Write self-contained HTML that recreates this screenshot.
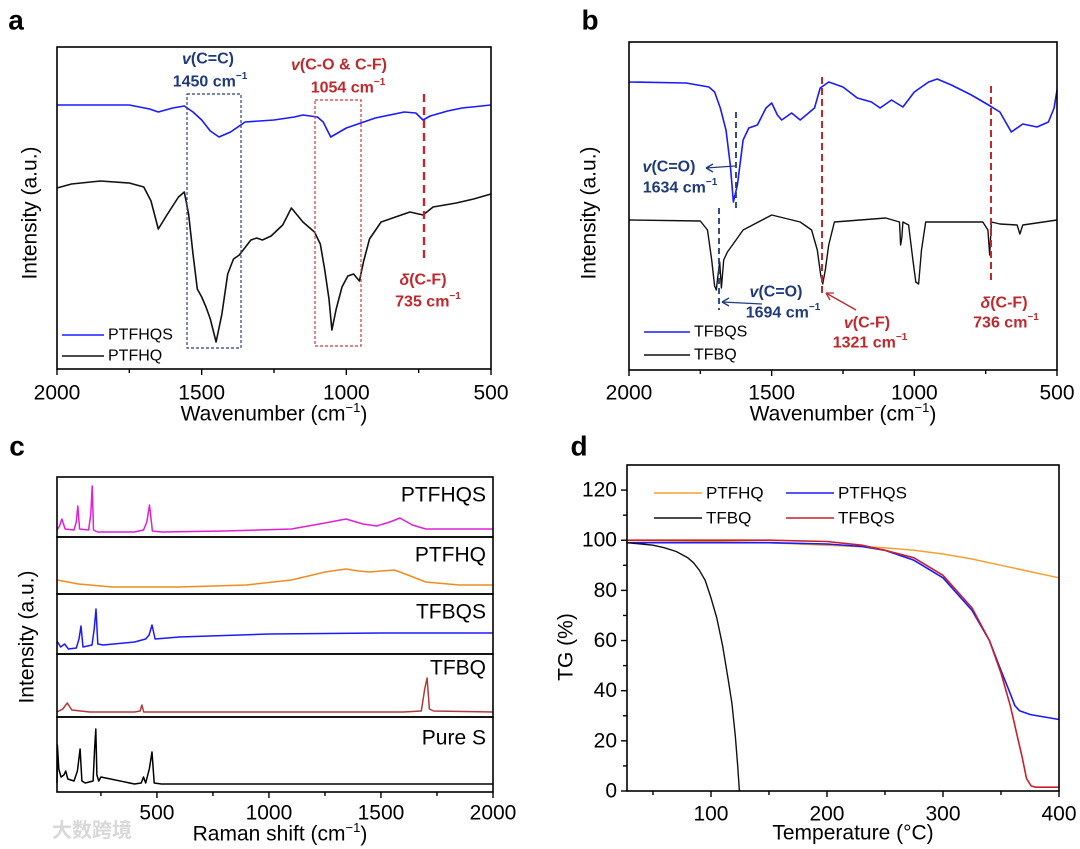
<!DOCTYPE html>
<html><head><meta charset="utf-8"><style>
html,body{margin:0;padding:0;background:#fff;}
svg{display:block;font-family:"Liberation Sans",Arial,sans-serif;}
</style></head><body>
<svg id="fig" width="1080" height="849" viewBox="0 0 1080 849" xmlns="http://www.w3.org/2000/svg">
<g id="layer"></g>
</svg>
<script>
// ---------- Panel a: FTIR (wavenumber, intensity) ----------
const aWaves_PTFHQS = [2000,1750,1680,1650,1600,1560,1530,1500,1470,1440,1400,1350,1250,1180,1150,1100,1080,1054,1030,1000,950,900,800,760,735,710,650,600,500];
const aVals_PTFHQS  = [264,264,260,257,261,263,257,249,238,232,237,247,249,252,254,252,247,232,236,241,246,251,257,256,249,253,258,261,264];
const aWaves_PTFHQ = [2000,1950,1850,1750,1700,1675,1650,1620,1580,1560,1545,1530,1515,1500,1485,1470,1450,1430,1410,1390,1370,1330,1310,1290,1260,1220,1190,1150,1110,1090,1075,1060,1050,1035,1015,995,975,955,940,920,880,830,780,735,700,660,620,560,500];
const aVals_PTFHQ  = [181,185,188,186,182,168,140,154,172,177,155,115,80,72,62,50,27,55,95,110,114,129,131,129,133,144,161,147,137,125,100,70,39,60,82,93,95,88,108,130,147,152,157,154,162,164,166,170,175];
// ---------- Panel b ----------
const bWaves_TFBQS = [2000,1800,1720,1700,1680,1660,1645,1634,1620,1600,1580,1550,1520,1500,1480,1465,1430,1400,1350,1330,1300,1250,1200,1150,1120,1080,1040,1000,950,920,870,800,740,700,660,620,570,530,510,500];
const bVals_TFBQS  = [288,287,283,278,262,240,205,168,185,230,242,245,262,267,255,250,257,250,262,282,288,283,272,268,262,270,263,278,288,291,285,275,265,258,238,246,243,248,262,280];
const bWaves_TFBQ = [2000,1750,1725,1710,1700,1694,1688,1682,1676,1668,1655,1630,1600,1500,1400,1360,1340,1328,1321,1312,1300,1280,1100,1052,1048,1044,1040,1020,1005,995,985,975,960,760,742,736,730,700,640,630,620,500];
const bVals_TFBQ  = [150,149,140,110,84,80,95,108,82,110,118,128,140,155,148,140,120,95,86,100,125,148,152,148,125,132,148,145,110,88,86,120,148,148,140,115,148,146,145,136,145,150];
// ---------- Panel c: Raman (shift, intensity above subpanel floor) ----------
const cShift_PTFHQS = [54,65,76,90,130,140,147,155,195,205,211,217,235,400,440,455,467,480,520,800,1100,1250,1344,1420,1480,1540,1585,1640,1700,2000];
const cVals_PTFHQS  = [4,8,15,5,4,12,28,5,4,20,48,4,2,2,4,12,29,3,2,3,5,11,15,10,8,12,16,9,5,5];
const cShift_PTFHQ = [54,150,300,600,900,1100,1250,1344,1400,1450,1500,1560,1620,1700,1850,2000];
const cVals_PTFHQ  = [11,7,4,4,6,11,19,22,20,19,20,21,16,9,6,6];
const cShift_TFBQS = [54,70,88,105,140,152,161,170,210,220,228,236,260,400,450,465,478,492,600,1000,1500,2000];
const cVals_TFBQS  = [10,4,7,2,3,12,25,4,6,22,42,7,6,9,12,16,26,12,14,17,18,18];
const cShift_TFBQ = [54,80,100,120,200,400,425,433,441,600,1600,1680,1695,1706,1716,1735,2000];
const cVals_TFBQ  = [2,5,11,4,2,2,3,9,2,2,2,3,25,36,5,3,2];
const cShift_S = [54,56,62,72,85,93,102,130,145,157,165,180,215,222,227,232,240,250,400,430,440,450,466,478,488,520,2000];
const cVals_S  = [6,44,20,12,14,18,10,8,18,40,8,6,8,40,60,14,8,12,5,6,12,6,20,37,6,5,5];
// ---------- Panel d: TG (temperature, %) ----------
const dT_PTFHQ = [27,100,150,200,250,275,300,325,350,375,400];
const dV_PTFHQ = [100,99.5,99,98,97,96,94.5,92.5,90,87.5,85];
const dT_PTFHQS = [27,100,150,200,230,250,275,300,325,340,350,357,362,366,375,400];
const dV_PTFHQS = [99,99,99,98.5,97.5,96,92,85,72,60,48,40,34,32,30.5,28.5];
const dT_TFBQ = [27,40,50,60,70,80,85,90,95,100,105,110,115,118,121,123,124.5];
const dV_TFBQ = [99,98.5,98,97,95.5,93,91,88,84,77,69,58,44,35,22,10,0];
const dT_TFBQS = [27,100,150,200,230,250,275,300,325,340,350,358,364,368,372,376,380,400];
const dV_TFBQS = [100,100,100,99.5,98,96,93,86,73,60,47,34,22,14,5,2,1.5,1.5];

const NS='http://www.w3.org/2000/svg';
const layer=document.getElementById('layer');
function mk(tag,attrs,parent){const e=document.createElementNS(NS,tag);for(const k in attrs)e.setAttribute(k,attrs[k]);(parent||layer).appendChild(e);return e;}
function txt(s,x,y,size,opts){opts=opts||{};const e=mk('text',{x:x,y:y,'font-size':size,fill:opts.fill||'#000','text-anchor':opts.anchor||'middle','dominant-baseline':'central','font-weight':opts.weight||'normal'});if(opts.rot)e.setAttribute('transform','rotate(-90 '+x+' '+y+')');if(opts.html)e.innerHTML=s;else e.textContent=s;return e;}
function scale(d0,d1,r0,r1){return v=>r0+(v-d0)*(r1-r0)/(d1-d0);}
function path(xsArr,ysArr,sx,sy,color,w){let d='';for(let i=0;i<xsArr.length;i++){d+=(i?'L':'M')+sx(xsArr[i]).toFixed(1)+','+sy(ysArr[i]).toFixed(1);}return mk('path',{d:d,fill:'none',stroke:color,'stroke-width':w||1.6,'stroke-linejoin':'round'});}
function box(x0,y0,x1,y1){return mk('rect',{x:x0,y:y0,width:x1-x0,height:y1-y0,fill:'none',stroke:'#000','stroke-width':1.6});}

// ===== Panel a =====
{
const sx=scale(2000,500,57,491), sy=scale(0,322,369,47);
let e;
e=txt('a',16,20,28,{weight:'bold'});

e=path(aWaves_PTFHQS,aVals_PTFHQS,sx,sy,'#1a1aff');

e=path(aWaves_PTFHQ,aVals_PTFHQ,sx,sy,'#111');

e=box(57,47,491,369);

[2000,1750,1500,1250,1000,750,500].forEach(v=>{const maj=v%500===0;const t=mk('line',{x1:sx(v),x2:sx(v),y1:369,y2:369+(maj?6:4),stroke:'#000','stroke-width':1.4});
if(maj){const l=txt(String(v),sx(v),393,21);}});
e=txt('Wavenumber (cm<tspan font-size="13" dy="-7">−1</tspan><tspan dy="7">)</tspan>',274,414,21,{html:true});

e=txt('Intensity (a.u.)',30,213,21,{rot:true});

// annotation boxes
e=mk('rect',{x:187,y:94,width:54,height:254,fill:'none',stroke:'#2b3f7f','stroke-width':1.2,'stroke-dasharray':'3,2'});

e=mk('rect',{x:315,y:100,width:46,height:246,fill:'none',stroke:'#d03a3a','stroke-width':1.2,'stroke-dasharray':'3,2'});

e=mk('line',{x1:424,x2:424,y1:94,y2:262,stroke:'#c0282d','stroke-width':2.4,'stroke-dasharray':'8,5'});

const navy='#1f3a7a', red='#c0282d';
e=txt('<tspan font-style="italic">v</tspan>(C=C)',208,59,16,{html:true,fill:navy,weight:'bold'});

e=txt('1450 cm<tspan font-size="10" dy="-6">−1</tspan>',210,82,16,{html:true,fill:navy,weight:'bold'});

e=txt('<tspan font-style="italic">v</tspan>(C-O &amp; C-F)',339,65,16,{html:true,fill:red,weight:'bold'});

e=txt('1054 cm<tspan font-size="10" dy="-6">−1</tspan>',348,88,16,{html:true,fill:red,weight:'bold'});

e=txt('<tspan font-style="italic">δ</tspan>(C-F)',423,280,16,{html:true,fill:red,weight:'bold'});

e=txt('735 cm<tspan font-size="10" dy="-6">−1</tspan>',428,302,16,{html:true,fill:red,weight:'bold'});

e=mk('line',{x1:62,x2:104,y1:335,y2:335,stroke:'#1a1aff','stroke-width':1.6});

e=txt('PTFHQS',108,335,16,{anchor:'start'});

e=mk('line',{x1:62,x2:104,y1:356,y2:356,stroke:'#111','stroke-width':1.6});

e=txt('PTFHQ',108,356,16,{anchor:'start'});

}

// ===== Panel b =====
{
const sx=scale(2000,500,629,1057), sy=scale(0,328,370,42);
let e;
e=txt('b',590,20,28,{weight:'bold'});

e=path(bWaves_TFBQS,bVals_TFBQS,sx,sy,'#1a1aff');

e=path(bWaves_TFBQ,bVals_TFBQ,sx,sy,'#111',1.4);

e=box(629,42,1057,370);

[2000,1750,1500,1250,1000,750,500].forEach(v=>{const maj=v%500===0;const t=mk('line',{x1:sx(v),x2:sx(v),y1:370,y2:370+(maj?6:4),stroke:'#000','stroke-width':1.4});
if(maj){const l=txt(String(v),sx(v),393,21);}});
e=txt('Wavenumber (cm<tspan font-size="13" dy="-7">−1</tspan><tspan dy="7">)</tspan>',843,414,21,{html:true});

e=txt('Intensity (a.u.)',589,213,21,{rot:true});

const navy='#1f3a7a', red='#c0282d';
e=mk('line',{x1:736,x2:736,y1:112,y2:208,stroke:navy,'stroke-width':1.8,'stroke-dasharray':'6,4'});

e=mk('line',{x1:719,x2:719,y1:208,y2:310,stroke:navy,'stroke-width':1.8,'stroke-dasharray':'6,4'});

e=mk('line',{x1:822,x2:822,y1:77,y2:293,stroke:red,'stroke-width':2,'stroke-dasharray':'7,4'});

e=mk('line',{x1:991,x2:991,y1:86,y2:282,stroke:red,'stroke-width':2,'stroke-dasharray':'7,4'});

e=mk('path',{d:'M735,166 L706,168 M706,168 l7,-4 M706,168 l7,4',stroke:navy,'stroke-width':1.3,fill:'none'});

e=mk('path',{d:'M762,304 L722,302 M722,302 l7,-4 M722,302 l7,4',stroke:navy,'stroke-width':1.3,fill:'none'});

e=mk('path',{d:'M856,310 L826,293 M826,293 l8,0 M826,293 l4,7',stroke:red,'stroke-width':1.3,fill:'none'});

e=txt('<tspan font-style="italic">v</tspan>(C=O)',669,167,16,{html:true,fill:navy,weight:'bold'});

e=txt('1634 cm<tspan font-size="10" dy="-6">−1</tspan>',680,188,16,{html:true,fill:navy,weight:'bold'});

e=txt('<tspan font-style="italic">v</tspan>(C=O)',776,292,16,{html:true,fill:navy,weight:'bold'});

e=txt('1694 cm<tspan font-size="10" dy="-6">−1</tspan>',783,313,16,{html:true,fill:navy,weight:'bold'});

e=txt('<tspan font-style="italic">v</tspan>(C-F)',867,323,16,{html:true,fill:red,weight:'bold'});

e=txt('1321 cm<tspan font-size="10" dy="-6">−1</tspan>',870,343,16,{html:true,fill:red,weight:'bold'});

e=txt('<tspan font-style="italic">δ</tspan>(C-F)',1004,303,16,{html:true,fill:red,weight:'bold'});

e=txt('736 cm<tspan font-size="10" dy="-6">−1</tspan>',1006,323,16,{html:true,fill:red,weight:'bold'});

e=mk('line',{x1:644,x2:690,y1:332,y2:332,stroke:'#1a1aff','stroke-width':1.6});

e=txt('TFBQS',694,332,16,{anchor:'start'});

e=mk('line',{x1:644,x2:690,y1:355,y2:355,stroke:'#111','stroke-width':1.6});

e=txt('TFBQ',694,355,16,{anchor:'start'});

}

// ===== Panel c =====
{
const sx=scale(54,2000,57,493);
let e;
e=txt('c',17,446,28,{weight:'bold'});

const subs=[
 {top:477,bot:537,xs:cShift_PTFHQS,ys:cVals_PTFHQS,c:'#e020d8',n:'PTFHQS',ly:495,k:'ptfhqs'},
 {top:537,bot:594,xs:cShift_PTFHQ,ys:cVals_PTFHQ,c:'#f08c1e',n:'PTFHQ',ly:555,k:'ptfhq'},
 {top:594,bot:654,xs:cShift_TFBQS,ys:cVals_TFBQS,c:'#1a1aff',n:'TFBQS',ly:612,k:'tfbqs'},
 {top:654,bot:717,xs:cShift_TFBQ,ys:cVals_TFBQ,c:'#b03a3a',n:'TFBQ',ly:668,k:'tfbq'},
 {top:717,bot:792,xs:cShift_S,ys:cVals_S,c:'#000',n:'Pure S',ly:738,k:'pure-s'}];
subs.forEach(s=>{
 const sy=v=>s.bot-3-v;
 const p=path(s.xs,s.ys,sx,sy,s.c,1.5);
 
 const r=box(57,s.top,493,s.bot);
 
 const l=txt(s.n,486,s.ly,21,{anchor:'end'});
 
});
[250,500,750,1000,1250,1500,1750,2000].forEach(v=>{const maj=v%500===0;const t=mk('line',{x1:sx(v),x2:sx(v),y1:792,y2:792+(maj?6:4),stroke:'#000','stroke-width':1.4});
if(maj){const l=txt(String(v),sx(v),813,21);}});
e=txt('Raman shift (cm<tspan font-size="13" dy="-7">−1</tspan><tspan dy="7">)</tspan>',280,834,21,{html:true});

e=txt('Intensity (a.u.)',27,637,21,{rot:true});

e=txt('大数跨境',52,831,20,{anchor:'start',fill:'#d8d8d8',weight:'bold'});
e.setAttribute('font-family','"Liberation Sans","Noto Sans CJK SC",sans-serif');

}

// ===== Panel d =====
{
const sx=scale(27.6,400,627,1059), sy=scale(0,130,791,465);
let e;
e=txt('d',579,446,28,{weight:'bold'});

e=path(dT_PTFHQ,dV_PTFHQ,sx,sy,'#f5a030',1.5);

e=path(dT_PTFHQS,dV_PTFHQS,sx,sy,'#1a1aff',1.6);

e=path(dT_TFBQ,dV_TFBQ,sx,sy,'#111',1.4);

e=path(dT_TFBQS,dV_TFBQS,sx,sy,'#c8202a',1.6);

e=box(627,465,1059,791);

[50,100,150,200,250,300,350,400].forEach(v=>{const maj=v%100===0;const t=mk('line',{x1:sx(v),x2:sx(v),y1:791,y2:791+(maj?6:4),stroke:'#000','stroke-width':1.4});
if(maj){const l=txt(String(v),sx(v),814,21);}});
for(let v=0;v<=120;v+=10){const maj=v%20===0;const t=mk('line',{x1:627,x2:627-(maj?6:4),y1:sy(v),y2:sy(v),stroke:'#000','stroke-width':1.4});
if(maj){const l=txt(String(v),617,sy(v),21,{anchor:'end'});}}
e=txt('Temperature (°C)',853,833,21);

e=txt('TG (%)',566,647,21,{rot:true});

const leg=[['PTFHQ','#f5a030',654,493,'ptfhq'],['PTFHQS','#1a1aff',786,493,'ptfhqs'],['TFBQ','#111',654,518,'tfbq'],['TFBQS','#c8202a',786,518,'tfbqs']];
leg.forEach(g=>{const l=mk('line',{x1:g[2],x2:g[2]+48,y1:g[3],y2:g[3],stroke:g[1],'stroke-width':1.6});

const t=txt(g[0],g[2]+52,g[3],17,{anchor:'start'});
});
}
</script>
</body></html>
